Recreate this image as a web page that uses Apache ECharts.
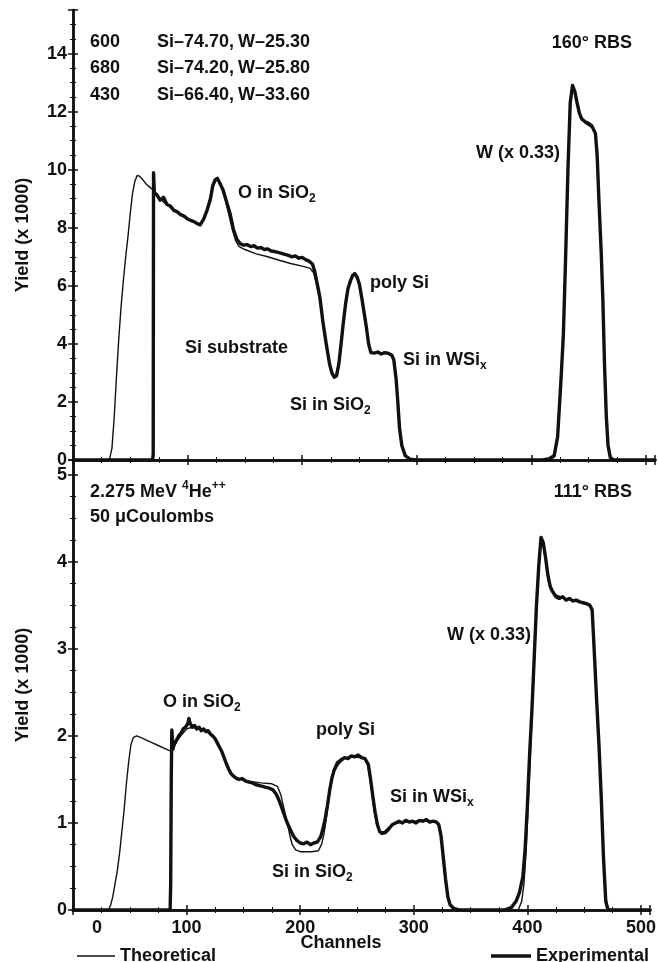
<!DOCTYPE html>
<html>
<head>
<meta charset="utf-8">
<script src="https://cdn.jsdelivr.net/npm/echarts@6/dist/echarts.min.js"></script>
<style>
html,body{margin:0;padding:0;background:#fff;}
#chart{width:659px;height:962px;}
</style>
</head>
<body>
<div id="chart"></div>
<script>
// ---- data (channel, yield x1000) ----
const xTicks = [0, 100, 200, 300, 400, 500];
const topYTicks = [0, 2, 4, 6, 8, 10, 12, 14];
const bottomYTicks = [0, 1, 2, 3, 4, 5];

// 160 deg RBS, experimental
const topExperimental = [[0,0],[69.5,0],[70,0.2],[70.3,9.9],[71,9.2],[73,9.15],[76,8.95],[79,9.05],[82,8.8],[85,8.75],[88,8.6],[91,8.55],[94,8.45],[97,8.4],[100,8.3],[103,8.25],[106,8.2],[108,8.15],[111,8.1],[114,8.3],[117,8.6],[120,9.0],[122,9.45],[124,9.65],[126,9.7],[128,9.55],[131,9.3],[134,8.9],[137,8.5],[140,7.95],[143,7.6],[146,7.45],[149,7.4],[152,7.42],[155,7.35],[158,7.38],[161,7.3],[164,7.32],[167,7.25],[170,7.27],[173,7.2],[176,7.18],[179,7.15],[182,7.12],[185,7.08],[188,7.05],[191,7.0],[194,7.03],[197,6.95],[200,6.98],[203,6.9],[206,6.85],[209,6.75],[211,6.5],[213,6.1],[215.5,5.6],[218,4.8],[221,4.0],[224,3.3],[226,3.0],[228,2.85],[230,2.9],[232,3.3],[234,4.0],[236,4.75],[238,5.4],[240,5.9],[242,6.15],[244,6.35],[246,6.42],[248,6.3],[250,6.05],[252,5.6],[254,5.1],[256,4.6],[258,4.0],[260,3.7],[263,3.68],[266,3.72],[269,3.65],[272,3.7],[275,3.68],[278,3.62],[280,3.45],[282,2.8],[283.5,2.0],[285,1.1],[287,0.5],[290,0.15],[294,0.03],[300,0],[410,0],[416,0.05],[420,0.15],[423,0.8],[426,2.8],[428,4.3],[430,7.0],[432,10.0],[434,12.3],[436,12.9],[438,12.7],[440,12.3],[442,11.95],[444,11.75],[447,11.65],[450,11.6],[453,11.5],[456,11.25],[457.5,10.5],[459,9.0],[461,7.2],[462.5,5.5],[464,3.2],[465.5,1.5],[467,0.5],[469,0.08],[472,0],[508,0]];

// 160 deg RBS, theoretical
const topTheoretical = [[0,0],[30,0],[32,0.05],[34,0.4],[36,1.5],[38,2.9],[40,4.2],[42,5.3],[44,6.2],[46,7.0],[48,7.7],[50,8.5],[52,9.2],[54,9.6],[56,9.8],[58,9.78],[61,9.65],[64,9.5],[67,9.4],[70,9.3],[73,9.15],[76,9.0],[80,8.85],[85,8.7],[90,8.55],[95,8.42],[100,8.3],[105,8.2],[110,8.12],[113,8.2],[116,8.5],[119,8.95],[122,9.4],[125,9.65],[127,9.6],[130,9.35],[133,8.95],[136,8.45],[139,7.95],[142,7.55],[145,7.35],[150,7.25],[160,7.1],[170,7.0],[180,6.88],[190,6.77],[200,6.68],[207,6.6],[210,6.45],[212,6.15],[215,5.6],[218,4.8],[221,4.0],[224,3.3],[226,3.0],[228,2.88],[230,2.95],[232,3.35],[234,4.05],[236,4.8],[238,5.45],[240,5.9],[242,6.2],[244,6.35],[246,6.38],[248,6.25],[250,6.0],[252,5.6],[254,5.1],[256,4.55],[258,4.0],[260,3.7],[270,3.68],[279,3.62],[281,3.3],[283,2.4],[285,1.3],[287,0.5],[290,0.12],[294,0.02],[300,0],[416,0],[420,0.1],[423,0.7],[426,2.7],[428,4.2],[430,6.9],[432,9.9],[434,12.2],[436,12.85],[438,12.65],[440,12.25],[443,11.85],[447,11.6],[453,11.45],[456,11.2],[458,10.2],[460,8.0],[462,6.0],[464,3.3],[466,1.0],[468,0.2],[471,0],[508,0]];

// 111 deg RBS, experimental
const bottomExperimental = [[0,0],[85.5,0],[86,0.3],[86.5,1.5],[87,2.07],[88,1.85],[89,1.9],[91,1.95],[93,2.0],[95,2.03],[97,2.08],[99,2.1],[101,2.14],[102,2.2],[103,2.15],[105,2.1],[107,2.12],[109,2.08],[111,2.1],[113,2.06],[115,2.08],[117,2.05],[119,2.06],[121,2.02],[123,2.0],[125,1.97],[127,1.92],[129,1.87],[131,1.82],[133,1.75],[135,1.68],[137,1.62],[139,1.57],[141,1.54],[143,1.52],[146,1.5],[149,1.51],[152,1.48],[155,1.47],[158,1.46],[161,1.44],[164,1.43],[167,1.42],[170,1.41],[173,1.4],[176,1.38],[179,1.33],[182,1.24],[185,1.13],[188,1.02],[191,0.93],[194,0.85],[197,0.8],[200,0.77],[203,0.76],[206,0.78],[209,0.75],[212,0.77],[215,0.78],[218,0.84],[220,0.93],[222,1.05],[224,1.2],[226,1.38],[228,1.52],[230,1.61],[233,1.68],[236,1.72],[239,1.75],[242,1.74],[245,1.77],[248,1.76],[251,1.78],[254,1.75],[257,1.74],[260,1.67],[262,1.5],[264,1.3],[266,1.12],[268,0.98],[270,0.9],[272,0.88],[275,0.89],[278,0.93],[281,0.98],[284,1.0],[287,1.02],[290,1.0],[293,1.03],[296,1.01],[299,1.02],[302,1.0],[305,1.03],[308,1.02],[311,1.04],[314,1.01],[317,1.02],[320,1.01],[322,0.98],[324,0.85],[326,0.6],[328,0.35],[330,0.15],[332,0.06],[335,0.02],[340,0],[380,0],[386,0.03],[390,0.1],[393,0.2],[396,0.38],[398,0.7],[400,1.2],[402,1.8],[404,2.3],[406,2.9],[408,3.5],[410,3.95],[412,4.28],[414,4.22],[416,4.05],[418,3.85],[420,3.72],[422,3.66],[425,3.6],[428,3.58],[431,3.6],[434,3.56],[437,3.58],[440,3.55],[443,3.56],[446,3.54],[449,3.53],[452,3.52],[455,3.5],[457,3.45],[458,3.2],[459.5,2.8],[461,2.4],[463,1.9],[465,1.3],[467,0.6],[469,0.1],[471,0],[508,0]];

// 111 deg RBS, theoretical
const bottomTheoretical = [[0,0],[31,0],[33,0.05],[35,0.15],[37,0.3],[39,0.45],[41,0.65],[43,0.9],[45,1.15],[47,1.45],[49,1.7],[51,1.9],[53,1.98],[56,2.0],[60,1.98],[65,1.95],[70,1.92],[75,1.89],[80,1.86],[85,1.83],[87,1.82],[89,1.88],[92,1.95],[96,2.02],[100,2.08],[105,2.1],[110,2.08],[115,2.06],[120,2.03],[125,1.97],[130,1.85],[135,1.68],[140,1.56],[145,1.51],[155,1.48],[165,1.46],[175,1.45],[180,1.42],[183,1.32],[186,1.15],[189,0.98],[191,0.85],[193,0.75],[196,0.69],[200,0.67],[210,0.67],[216,0.68],[219,0.76],[221,0.88],[223,1.05],[225,1.25],[227,1.45],[229,1.6],[232,1.7],[236,1.74],[245,1.76],[255,1.75],[259,1.7],[261,1.55],[263,1.35],[265,1.15],[267,1.0],[270,0.9],[274,0.9],[278,0.95],[282,0.99],[290,1.01],[300,1.02],[310,1.02],[320,1.01],[322,0.97],[324,0.82],[326,0.58],[328,0.33],[330,0.14],[333,0.04],[338,0],[392,0],[395,0.1],[397,0.3],[399,0.7],[401,1.3],[403,1.9],[405,2.5],[407,3.1],[409,3.7],[411,4.15],[413,4.25],[415,4.1],[418,3.85],[421,3.7],[425,3.62],[435,3.57],[445,3.55],[455,3.5],[457,3.42],[458.5,3.1],[460,2.7],[462,2.2],[464,1.6],[466,1.0],[468,0.35],[470,0.05],[472,0],[508,0]];

const compositionRows = [
  ['600', 'Si–74.70,', 'W–25.30'],
  ['680', 'Si–74.20,', 'W–25.80'],
  ['430', 'Si–66.40,', 'W–33.60']
];

// ---- chart ----
const FONT = '"Liberation Sans", Arial, sans-serif';
const INK = '#111';
const chart = echarts.init(document.getElementById('chart'), null, {renderer: 'canvas'});

function frameX(grid, pos, showLabels) {
  return {
    type: 'value', gridIndex: grid, position: pos, min: 0, max: 508, interval: 100,
    axisLine: {show: true, lineStyle: {color: INK, width: 2.5}},
    axisTick: {show: true, inside: true, length: 5, lineStyle: {color: INK, width: 1.5}},
    minorTick: {show: true, splitNumber: 4, length: 3, lineStyle: {color: INK, width: 1}},
    splitLine: {show: false},
    axisLabel: {show: showLabels, color: INK, fontSize: 18, fontWeight: 'bold', fontFamily: FONT, margin: 9,
      formatter: v => (v === 0 ? '' : String(v)), showMaxLabel: false}
  };
}
function frameY(grid, pos, max, interval, showLabels, name) {
  return {
    type: 'value', gridIndex: grid, position: pos, min: 0, max: max, interval: interval,
    name: name || '', nameLocation: 'middle', nameGap: 41,
    nameTextStyle: {color: INK, fontSize: 18, fontWeight: 'bold', fontFamily: FONT},
    axisLine: {show: true, lineStyle: {color: INK, width: 2.5}},
    axisTick: {show: true, inside: true, length: 5, lineStyle: {color: INK, width: 1.5}},
    minorTick: {show: true, splitNumber: 4, length: 3, lineStyle: {color: INK, width: 1}},
    splitLine: {show: false},
    axisLabel: {show: showLabels, color: INK, fontSize: 18, fontWeight: 'bold', fontFamily: FONT, margin: 6, showMaxLabel: false}
  };
}
function lineSeries(name, data, xi, yi, width, z) {
  return {
    name: name, type: 'line', xAxisIndex: xi, yAxisIndex: yi, data: data,
    showSymbol: false, symbol: 'none', smooth: false, z: z,
    lineStyle: {color: INK, width: width, join: 'round', cap: 'round'},
    itemStyle: {color: INK}
  };
}
const TXT = {font: 'bold 18px ' + FONT, fill: INK};
const RICH = {
  s: {fontSize: 12, fontWeight: 'bold', fontFamily: FONT, color: INK, verticalAlign: 'bottom', lineHeight: 12},
  p: {fontSize: 12, fontWeight: 'bold', fontFamily: FONT, color: INK, verticalAlign: 'top', lineHeight: 12}
};
function txt(x, y, text, align) {
  return {type: 'text', x: x, y: y, silent: true, z: 50,
    style: {text: text, font: TXT.font, fill: INK, align: align || 'left', verticalAlign: 'middle', lineHeight: 24, rich: RICH}};
}

const graphics = [];
compositionRows.forEach((r, i) => {
  const y = 42 + i * 26.5;
  graphics.push(txt(90, y, r[0]));
  graphics.push(txt(157, y, r[1]));
  graphics.push(txt(238, y, r[2]));
});
graphics.push(
  txt(632, 43, '160° RBS', 'right'),
  txt(238, 193, 'O in SiO{s|2}'),
  txt(370, 283, 'poly Si'),
  txt(185, 348, 'Si substrate'),
  txt(290, 405, 'Si in SiO{s|2}'),
  txt(403, 360, 'Si in WSi{s|x}'),
  txt(560, 153, 'W (x 0.33)', 'right'),
  txt(90, 492, '2.275 MeV {p|4}He{p|++}'),
  txt(90, 517, '50 μCoulombs'),
  txt(632, 492, '111° RBS', 'right'),
  txt(531, 635, 'W (x 0.33)', 'right'),
  txt(163, 702, 'O in SiO{s|2}'),
  txt(316, 730, 'poly Si'),
  txt(390, 797, 'Si in WSi{s|x}'),
  txt(272, 872, 'Si in SiO{s|2}'),
  txt(97, 928, '0', 'center'),
  txt(341, 943, 'Channels', 'center')
);

chart.setOption({
  animation: false,
  backgroundColor: '#fff',
  grid: [
    {left: 73, right: 4, top: 10, height: 450},
    {left: 73, right: 4, top: 460, height: 450}
  ],
  xAxis: [frameX(0, 'bottom', false), frameX(0, 'top', false), frameX(1, 'bottom', true), frameX(1, 'top', false)],
  yAxis: [
    frameY(0, 'left', 15.5, 2, true, 'Yield (x 1000)'),
    frameY(0, 'right', 15.5, 2, false),
    frameY(1, 'left', 5.17, 1, true, 'Yield (x 1000)'),
    frameY(1, 'right', 5.17, 1, false)
  ],
  legend: [
    {data: ['Theoretical'], left: 72, top: 942, itemWidth: 38, itemHeight: 14, itemGap: 10,
      textStyle: {color: INK, fontSize: 18, fontWeight: 'bold', fontFamily: FONT}, icon: 'path://M0,7 L38,7 L38,8.6 L0,8.6 Z', itemStyle: {color: INK}},
    {data: ['Experimental'], left: 486, top: 942, itemWidth: 40, itemHeight: 14,
      textStyle: {color: INK, fontSize: 18, fontWeight: 'bold', fontFamily: FONT}, icon: 'path://M0,6 L40,6 L40,9.5 L0,9.5 Z', itemStyle: {color: INK}}
  ],
  series: [
    lineSeries('Theoretical', topTheoretical, 0, 0, 1.4, 3),
    lineSeries('Experimental', topExperimental, 0, 0, 3.4, 2),
    lineSeries('Theoretical', bottomTheoretical, 2, 2, 1.4, 3),
    lineSeries('Experimental', bottomExperimental, 2, 2, 3.4, 2)
  ],
  graphic: graphics
});
</script>
</body>
</html>
